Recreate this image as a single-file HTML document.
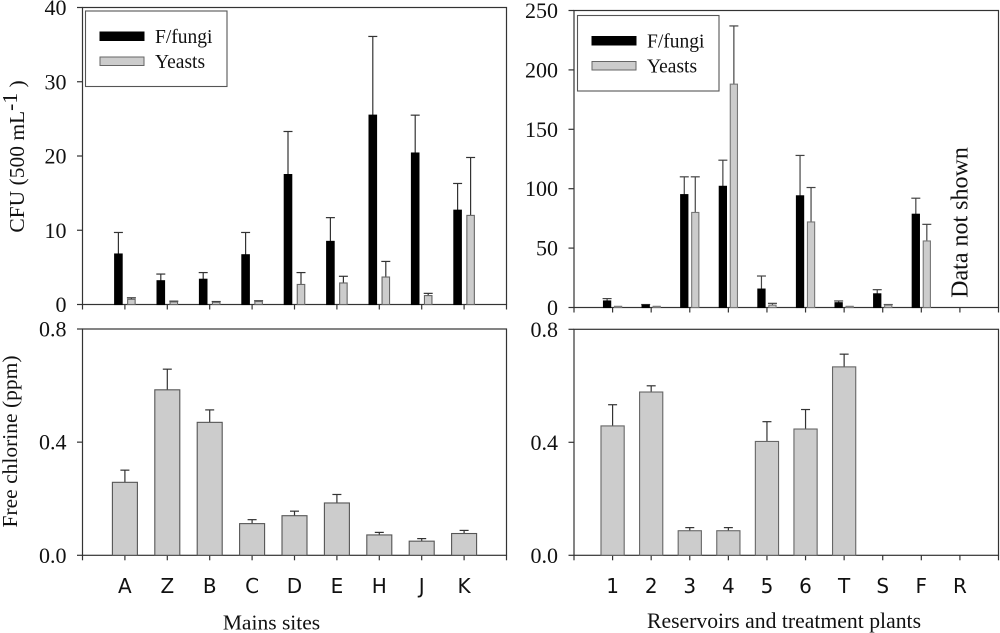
<!DOCTYPE html>
<html lang="en">
<head>
<meta charset="utf-8">
<title>CFU and free chlorine by site</title>
<style>
html,body{margin:0;padding:0;background:#fff;}
#chart{display:block;width:1000px;height:633px;filter:blur(0.35px);}
text{font-family:"Liberation Serif",serif;fill:#111;}
.sans{font-family:"DejaVu Sans",sans-serif;}
</style>
</head>
<body>
<svg id="chart" xmlns="http://www.w3.org/2000/svg" width="1000" height="633" viewBox="0 0 1000 633"></svg>
<script>
const mainsSites = ['A','Z','B','C','D','E','H','J','K'];
const reservoirSites = ['1','2','3','4','5','6','T','S','F','R'];

const mainsFungi = [6.8,3.2,3.4,6.7,17.5,8.5,25.5,20.4,12.7];
const mainsFungiErr = [2.9,0.9,0.9,3.0,5.8,3.2,10.6,5.1,3.6];
const mainsYeasts = [0.7,0.35,0.3,0.4,2.7,2.9,3.7,1.2,12];
const mainsYeastsErr = [0.2,0.1,0.1,0.1,1.6,0.9,2.1,0.3,7.8];

const resFungi = [5.5,2,95,102,15.5,94,4,11.5,78.5,null];
const resFungiErr = [2,0.5,15,22,11,34,1.5,3.5,13.5,null];
const resYeasts = [1,1,80,188,2,72,1,2,56,null];
const resYeastsErr = [0,0,30,49,1.5,29,0,0.5,14,null];

const mainsChlorine = [0.258,0.585,0.47,0.112,0.14,0.185,0.072,0.05,0.077];
const mainsChlorineErr = [0.043,0.073,0.044,0.014,0.016,0.03,0.009,0.009,0.011];
const resChlorine = [0.458,0.578,0.087,0.087,0.403,0.447,0.667,null,null,null];
const resChlorineErr = [0.075,0.022,0.011,0.011,0.07,0.069,0.045,null,null,null];

const ticksCfuMains = [0,10,20,30,40];
const ticksCfuRes = [0,50,100,150,200,250];
const ticksChlorine = [0,0.4,0.8];
const legendLabels = ['F/fungi','Yeasts'];

const svg = document.getElementById('chart');
const NS = 'http://www.w3.org/2000/svg';
const AXIS = '#333';
const GRAY = '#cccccc';
const EDGE = '#555';

function el(tag, attrs, parent, text){
  const e = document.createElementNS(NS, tag);
  for (const k in attrs) e.setAttribute(k, attrs[k]);
  if (text !== undefined) e.textContent = text;
  (parent || svg).appendChild(e);
  return e;
}

function panel(name, box, yMax, ticks, tickFmt, cats){
  const g = el('g', {}, svg);
  
  
  const yAt = v => box.bottom - (v / yMax) * (box.bottom - box.top);
  const xAt = i => box.left + (i + 1) * (box.right - box.left) / (cats.length + 1);
  const frame = el('rect', {x:box.left, y:box.top, width:box.right-box.left, height:box.bottom-box.top, fill:'none', stroke:AXIS, 'stroke-width':1.2}, g);
  
  
  ticks.forEach(t => {
    const y = yAt(t);
    const tl = el('line', {x1:box.left-5.5, x2:box.left, y1:y, y2:y, stroke:AXIS, 'stroke-width':1.2}, g);
    
    
    const lab = el('text', {x:box.left-16, y:y+7.5, 'text-anchor':'end', 'font-size':22}, g, tickFmt(t));
    
    
  });
  for (let i = -1; i <= cats.length; i++){
    const x = xAt(i);
    const tl = el('line', {x1:x, x2:x, y1:box.bottom, y2:box.bottom+5, stroke:AXIS, 'stroke-width':1.2}, g);
    
    
  }
  return {g, xAt, yAt};
}

function bar(p, name, cx, w, val, err, fill, stroke, errColor){
  if (val === null || val === undefined) return;
  const y0 = p.yAt(0), y1 = p.yAt(val), yTop = p.yAt(val + err);
  if (err > 0){
    const s = el('line', {x1:cx, x2:cx, y1:y1, y2:yTop, stroke:errColor, 'stroke-width':1.2}, p.g);
    
    
    const c = el('line', {x1:cx-4.5, x2:cx+4.5, y1:yTop, y2:yTop, stroke:errColor, 'stroke-width':1.2}, p.g);
    
    
  }
  const r = el('rect', {x:cx-w/2, y:y1, width:w, height:Math.max(y0-y1,0.5), fill:fill, stroke:stroke, 'stroke-width':1.1}, p.g);
  
  
}

function catLabels(p, cats){
  cats.forEach((c, i) => {
    const t = el('text', {x:p.xAt(i), y:593, 'text-anchor':'middle', 'font-size':20, 'class':'sans'}, p.g, c);
    
    
  });
}

function legend(x, y, dx){
  const g = el('g', {}, svg);
  
  
  el('rect', {x:x, y:y, width:141.5, height:75.5, fill:'#fff', stroke:'#555', 'stroke-width':1.1}, g);
  legendLabels.forEach((lab, i) => {
    const sy = y + 21 + i * 25;
    const s = el('rect', {x:x+dx, y:sy, width:44, height:8.5, fill:i ? GRAY : '#000', stroke:i ? '#666' : '#000', 'stroke-width':1}, g);
    
    
    const t = el('text', {x:x+dx+55, y:sy+11, 'font-size':19.5}, g, lab);
    
    
  });
}

const int = t => String(t);
const dec = t => t.toFixed(1);

/* top-left */
const tl = panel('cfu-mains-panel', {left:82.5,right:506.5,top:7.5,bottom:304.5}, 40, ticksCfuMains, int, mainsSites);
mainsSites.forEach((c, i) => {
  bar(tl, 'fungi-bar-' + c, tl.xAt(i)-6.5, 7.5, mainsFungi[i], mainsFungiErr[i], '#000', '#000', '#333');
  bar(tl, 'yeast-bar-' + c, tl.xAt(i)+6.5, 7.5, mainsYeasts[i], mainsYeastsErr[i], GRAY, '#666', '#333');
});
legend(85.5, 11, 14.5);

/* top-right */
const tr = panel('cfu-reservoirs-panel', {left:574,right:998.5,top:10.5,bottom:307.5}, 250, ticksCfuRes, int, reservoirSites);
reservoirSites.forEach((c, i) => {
  bar(tr, 'fungi-bar-' + c, tr.xAt(i)-5.5, 7.2, resFungi[i], resFungiErr[i], '#000', '#000', '#444');
  bar(tr, 'yeast-bar-' + c, tr.xAt(i)+5.5, 7.2, resYeasts[i], resYeastsErr[i], GRAY, '#777', '#444');
});
legend(577.5, 15.5, 14.5);

/* bottom-left */
const bl = panel('chlorine-mains-panel', {left:82.5,right:506.5,top:329,bottom:555.3}, 0.8, ticksChlorine, dec, mainsSites);
mainsSites.forEach((c, i) => {
  bar(bl, 'chlorine-bar-' + c, bl.xAt(i), 25, mainsChlorine[i], mainsChlorineErr[i], GRAY, EDGE, '#333');
});
catLabels(bl, mainsSites);

/* bottom-right */
const br = panel('chlorine-reservoirs-panel', {left:574,right:998.5,top:329.3,bottom:555.3}, 0.8, ticksChlorine, dec, reservoirSites);
reservoirSites.forEach((c, i) => {
  bar(br, 'chlorine-bar-' + c, br.xAt(i), 23.2, resChlorine[i], resChlorineErr[i], GRAY, '#666', '#333');
});
catLabels(br, reservoirSites);

/* titles */
const yt1 = el('text', {transform:'translate(24,156.5) rotate(-90)', 'text-anchor':'middle', 'font-size':21.5});


yt1.appendChild(document.createTextNode('CFU (500 mL'));
el('tspan', {dy:-7}, yt1, '-1');
el('tspan', {dy:7}, yt1, ' )');

const yt2 = el('text', {transform:'translate(17,441.5) rotate(-90)', 'text-anchor':'middle', 'font-size':21.5, textLength:172, lengthAdjust:'spacingAndGlyphs'}, svg, 'Free chlorine (ppm)');



const xt1 = el('text', {x:271.5, y:629.5, 'text-anchor':'middle', 'font-size':21.5}, svg, 'Mains sites');



const xt2 = el('text', {x:784, y:628, 'text-anchor':'middle', 'font-size':21.7}, svg, 'Reservoirs and treatment plants');



const note = el('text', {transform:'translate(967.5,222.5) rotate(-90)', 'text-anchor':'middle', 'font-size':24}, svg, 'Data not shown');


</script>
</body>
</html>
